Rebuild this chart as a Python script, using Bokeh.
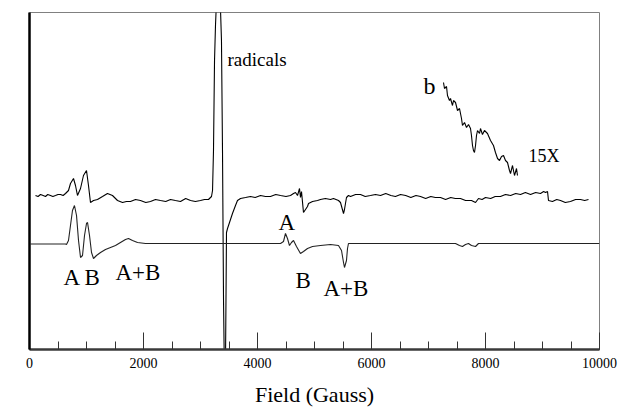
from bokeh.plotting import figure
from bokeh.models import Range1d, FixedTicker, Label
from bokeh.embed import file_html
from bokeh.resources import INLINE

# ---- data (field in Gauss, intensity in arbitrary units) ----
a_field = [105, 150, 193, 240, 281, 320, 368, 410, 456, 500, 544, 590, 632, 684, 719, 772, 807, 842, 895,
           947, 1000, 1035, 1070, 1123, 1193, 1281, 1368, 1456, 1544, 1632, 1700, 1772, 1860, 1947, 2040,
           2123, 2210, 2298, 2390, 2474, 2560, 2649, 2740, 2825, 2910, 3000, 3070, 3140, 3193, 3211, 3228,
           3246, 3263, 3281, 3316, 3351, 3368, 3386, 3404, 3421, 3439, 3456, 3474, 3509, 3561, 3614, 3649,
           3702, 3790, 3877, 3960, 4053, 4140, 4228, 4320, 4404, 4500, 4579, 4632, 4667, 4702, 4737, 4754,
           4772, 4807, 4877, 4895, 4965, 5053, 5105, 5190, 5281, 5333, 5421, 5456, 5509, 5526, 5561, 5596,
           5632, 5720, 5807, 5890, 5982, 6070, 6158, 6250, 6340, 6420, 6509, 6600, 6690, 6780, 6860, 6950,
           7040, 7120, 7211, 7300, 7390, 7470, 7561, 7650, 7754, 7825, 7877, 7940, 8000, 8090, 8170, 8263,
           8350, 8440, 8530, 8614, 8700, 8790, 8880, 8965, 9020, 9053, 9088, 9105, 9175, 9250, 9316, 9400,
           9491, 9580, 9667, 9740, 9807]
a_signal = [154, 153, 155, 154, 153, 155, 154, 153, 154, 155, 155, 154, 156, 159, 166, 171, 164, 154, 161,
            174, 179, 164, 147, 149, 150, 153, 156, 154, 149, 147, 148, 148, 150, 149, 147,
            148, 150, 149, 148, 150, 149, 148, 151, 149, 148, 149, 150, 150, 153, 159, 199,
            289, 324, 349, 359, 340, 309, 199, 49, -31, -10, 117, 121, 127, 136, 144, 149,
            151, 152, 153, 152, 154, 153, 153, 155, 154, 153, 154, 156, 157, 154, 161, 152,
            158, 137, 143, 146, 148, 149, 150, 151, 150, 151, 149, 147, 136, 140, 152, 154,
            153, 155, 155, 153, 154, 155, 154, 156, 154, 153, 155, 154, 152, 154, 153, 151,
            153, 152, 152, 150, 152, 151, 151, 149, 149, 147, 151, 150, 152, 151, 153, 153,
            155, 154, 156, 155, 157, 155, 157, 156, 158, 157, 158, 149, 148, 150, 149, 147,
            148, 150, 150, 149, 150]

c_field = [18, 632, 649, 684, 719, 754, 789, 825, 860, 895, 930, 965, 1000, 1018, 1053, 1088, 1123, 1175,
           1246, 1333, 1421, 1509, 1596, 1684, 1737, 1807, 1895, 2035, 4404, 4456, 4491, 4526, 4561, 4596,
           4632, 4684, 4754, 4807, 4877, 4965, 5105, 5281, 5421, 5474, 5509, 5526, 5561, 5579, 5596, 7474,
           7544, 7596, 7649, 7702, 7754, 7825, 7877, 10000]
c_signal = [105.5, 105.5, 105, 109, 124, 139, 144, 134, 109, 92, 94, 114, 126, 127, 114, 97, 91, 94,
            97, 100, 102, 104, 107, 110, 111, 109, 107, 106, 106, 108, 116, 111, 104, 107,
            109, 103, 96, 98, 101, 103, 104, 105, 104, 99, 87, 82, 89, 101, 106, 106,
            104, 103, 105, 106, 104, 103, 106, 106]

b_field = [7263, 7281, 7316, 7333, 7368, 7386, 7421, 7439, 7474, 7509, 7544, 7579, 7596, 7632, 7667, 7702,
           7737, 7754, 7772, 7789, 7807, 7825, 7842, 7860, 7895, 7912, 7947, 7982, 8035, 8088, 8140, 8175,
           8211, 8246, 8281, 8316, 8351, 8386, 8421, 8439, 8474, 8491, 8509, 8544, 8561]
b_signal = [267, 261, 263, 254, 249, 251, 244, 249, 247, 239, 241, 231, 224, 227, 222, 225,
            221, 214, 204, 199, 197, 204, 214, 219, 216, 221, 215, 219, 216, 209, 204, 197,
            191, 189, 193, 194, 189, 187, 179, 176, 184, 179, 174, 181, 174]

x_ticks = [0, 2000, 4000, 6000, 8000, 10000]
x_minor = [i * 500 for i in range(21)]

labels = [
    ("a", -246, 160, "center", "23px"),
    ("c", -246, 106, "center", "23px"),
    ("A B", 596, 72, "left", "23px"),
    ("A+B", 1509, 77, "left", "23px"),
    ("A", 4368, 127, "left", "23px"),
    ("B", 4667, 69, "left", "23px"),
    ("A+B", 5158, 61, "left", "23px"),
    ("b", 6912, 264, "left", "24px"),
    ("15X", 8754, 194, "left", "18px"),
    ("radicals", 3474, 290, "left", "19px"),
]

FONT = "Liberation Serif"

p = figure(width=628, height=409, output_backend="svg", toolbar_location=None,
           x_range=Range1d(0, 10000), y_range=Range1d(0, 337),
           min_border_left=29, min_border_right=29, min_border_top=12, min_border_bottom=60)
p.background_fill_color = "white"
p.border_fill_color = "white"
p.outline_line_color = "#808080"
p.outline_line_width = 1
p.xgrid.visible = False
p.ygrid.visible = False

p.line(a_field, a_signal, line_color="black", line_width=1.1)
p.line(c_field, c_signal, line_color="#222222", line_width=1.1)
p.line(b_field, b_signal, line_color="black", line_width=1.1)

xa = p.xaxis[0]
xa.ticker = FixedTicker(ticks=x_ticks, minor_ticks=x_minor)
xa.axis_line_width = 2.5
xa.axis_line_color = "#3a3a3a"
xa.major_tick_in = 17
xa.major_tick_out = 0
xa.minor_tick_in = 8
xa.minor_tick_out = 0
xa.major_tick_line_color = "#333333"
xa.minor_tick_line_color = "#333333"
xa.major_label_standoff = 8
xa.major_label_text_font = FONT
xa.major_label_text_font_size = "14px"
xa.major_label_text_color = "black"
xa.axis_label = "Field (Gauss)"
xa.axis_label_text_font = FONT
xa.axis_label_text_font_size = "22px"
xa.axis_label_text_font_style = "normal"
xa.axis_label_text_color = "black"
xa.axis_label_standoff = 11

ya = p.yaxis[0]
ya.ticker = FixedTicker(ticks=[])
ya.axis_line_width = 2.5
ya.axis_line_color = "black"
ya.major_tick_out = 0
ya.major_tick_in = 0
ya.minor_tick_out = 0
ya.minor_tick_in = 0
ya.major_label_standoff = 0
ya.major_label_text_font_size = "0px"

for txt, gx, gy, align, size in labels:
    p.add_layout(Label(x=gx, y=gy, text=txt, text_font=FONT, text_font_size=size,
                       text_align=align, text_baseline="middle", text_color="black"))

open("out.html", "w").write(file_html(p, INLINE))
